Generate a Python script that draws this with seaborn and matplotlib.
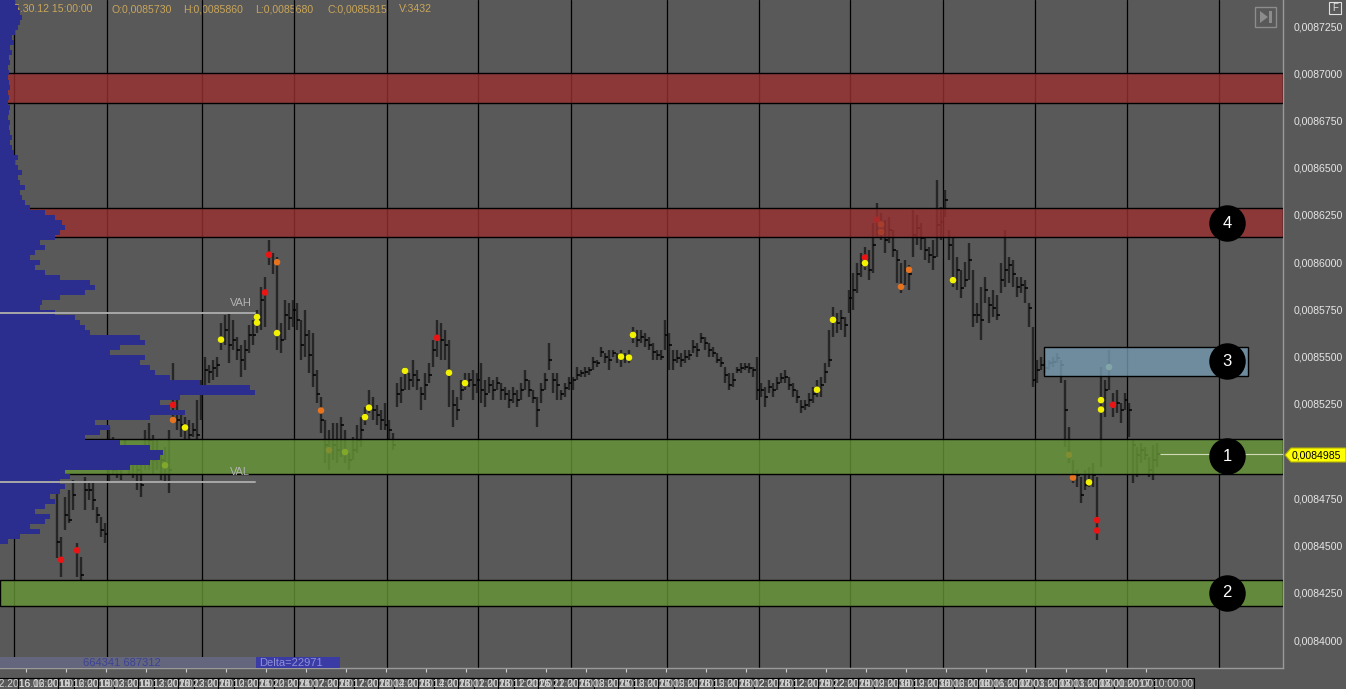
import numpy as np
import pandas as pd
import matplotlib
matplotlib.use('Agg')
import matplotlib.pyplot as plt
import seaborn as sns
from matplotlib.patches import Rectangle, Polygon
from matplotlib.transforms import Affine2D
from matplotlib.ticker import FuncFormatter

# prices in units of 1e-7
high = [84795, 84545, 84755, 84795, 84845, 84515, 84440, 84865, 84830, 84830,
        84705, 84650, 84620, 85130, 85075, 85035, 85005, 85060, 85035, 85020,
        84980, 84935, 85110, 85150, 85085, 85060, 85005, 85020, 85110, 85465,
        85270, 85220, 85180, 85165, 85150, 85270, 85375, 85500, 85455, 85480,
        85500, 85680, 85720, 85730, 85695, 85605, 85560, 85590, 85670, 85695,
        85745, 85870, 85920, 86120, 86050, 86030, 85680, 85800, 85785, 85800,
        85785, 85695, 85745, 85640, 85625, 85430, 85285, 85165, 85110, 85150,
        85150, 85180, 85110, 84990, 85075, 85140, 85180, 85235, 85325, 85285,
        85245, 85220, 85255, 85165, 85095, 85360, 85395, 85445, 85415, 85480,
        85430, 85340, 85415, 85465, 85590, 85695, 85680, 85640, 85590, 85325,
        85285, 85375, 85415, 85415, 85430, 85415, 85465, 85375, 85395, 85375,
        85395, 85360, 85340, 85325, 85340, 85325, 85360, 85430, 85375, 85325,
        85285, 85360, 85415, 85570, 85415, 85415, 85325, 85360, 85395, 85395,
        85445, 85430, 85445, 85445, 85500, 85480, 85550, 85520, 85535, 85535,
        85520, 85535, 85520, 85535, 85655, 85640, 85640, 85625, 85605, 85570,
        85535, 85535, 85695, 85625, 85535, 85535, 85520, 85535, 85535, 85590,
        85570, 85625, 85605, 85570, 85550, 85520, 85500, 85445, 85415, 85415,
        85445, 85465, 85465, 85465, 85445, 85500, 85360, 85340, 85375, 85360,
        85395, 85415, 85430, 85395, 85360, 85325, 85270, 85270, 85310, 85340,
        85375, 85395, 85465, 85640, 85765, 85730, 85745, 85710, 85855, 85945,
        85995, 86050, 86080, 86065, 86210, 86315, 86260, 86225, 86240, 86170,
        86065, 85995, 86010, 85985, 86275, 86250, 86210, 86135, 86080, 86120,
        86435, 86290, 86380, 86170, 86135, 86030, 85960, 86000, 86100, 85960,
        85785, 85870, 85920, 85815, 85855, 85825, 85995, 86170, 86030, 86010,
        85920, 85920, 85905, 85785, 85655, 85480, 85500, 85480, 85480, 85500,
        85520, 85480, 85375, 85130, 84955, 84900, 84865, 84900, 84915, 84935,
        84865, 85445, 85375, 85535, 85310, 85325, 85255, 85310, 85255, 85060,
        85020, 85045, 85020, 84970, 85035, 85045]
low = [84435, 84335, 84585, 84620, 84690, 84335, 84320, 84690, 84740, 84690,
       84620, 84545, 84515, 84830, 84875, 84860, 84845, 84900, 84875, 84860,
       84795, 84755, 84900, 84900, 84875, 84900, 84845, 84830, 84780, 85165,
       85110, 85075, 85060, 85060, 85075, 85060, 85165, 85350, 85360, 85375,
       85395, 85535, 85560, 85465, 85535, 85480, 85395, 85430, 85520, 85560,
       85625, 85640, 85655, 85985, 85935, 85535, 85520, 85590, 85640, 85655,
       85640, 85480, 85500, 85415, 85340, 85255, 85095, 84935, 84900, 84955,
       84935, 84970, 84935, 84900, 84955, 84990, 85020, 85140, 85200, 85165,
       85140, 85110, 85110, 85060, 85005, 85235, 85255, 85325, 85325, 85340,
       85325, 85220, 85270, 85360, 85445, 85500, 85480, 85480, 85235, 85130,
       85165, 85270, 85325, 85340, 85270, 85310, 85255, 85235, 85310, 85270,
       85325, 85270, 85270, 85230, 85255, 85235, 85270, 85325, 85285, 85255,
       85130, 85255, 85325, 85430, 85310, 85270, 85270, 85285, 85325, 85325,
       85375, 85395, 85395, 85405, 85430, 85445, 85500, 85465, 85430, 85500,
       85465, 85445, 85465, 85465, 85570, 85550, 85570, 85550, 85535, 85480,
       85480, 85480, 85535, 85430, 85430, 85465, 85445, 85465, 85480, 85520,
       85500, 85570, 85535, 85500, 85500, 85465, 85445, 85360, 85325, 85340,
       85415, 85415, 85430, 85415, 85395, 85270, 85285, 85235, 85310, 85285,
       85325, 85360, 85360, 85325, 85285, 85255, 85200, 85220, 85235, 85255,
       85285, 85285, 85360, 85445, 85605, 85625, 85640, 85605, 85730, 85745,
       85835, 85920, 85960, 85905, 85945, 86135, 86120, 86050, 86100, 86030,
       85890, 85835, 85880, 85855, 86030, 86090, 86065, 86010, 85995, 85960,
       86030, 86120, 86240, 86010, 85870, 85855, 85810, 85870, 85905, 85655,
       85680, 85590, 85785, 85680, 85710, 85695, 85835, 85870, 85890, 85870,
       85815, 85835, 85785, 85655, 85340, 85360, 85430, 85415, 85430, 85445,
       85465, 85360, 85020, 84935, 84830, 84810, 84725, 84795, 84810, 84810,
       84530, 84915, 85180, 85325, 85180, 85200, 85150, 85220, 85075, 84830,
       84865, 84935, 84955, 84865, 84845, 84915]
close = [84520, 84425, 84660, 84635, 84770, 84475, 84345, 84795, 84795, 84740,
         84660, 84585, 84560, 84955, 84900, 84980, 84925, 84955, 84980, 84940,
         84900, 84820, 85005, 85060, 84955, 84980, 84955, 84925, 84900, 85245,
         85165, 85140, 85125, 85085, 85110, 85085, 85300, 85430, 85420, 85440,
         85455, 85590, 85640, 85560, 85590, 85535, 85480, 85535, 85615, 85615,
         85695, 85800, 85840, 86040, 86000, 85625, 85590, 85720, 85705, 85745,
         85695, 85560, 85615, 85510, 85405, 85300, 85165, 85035, 85005, 85035,
         85005, 85140, 84995, 84955, 85005, 85060, 85110, 85180, 85230, 85220,
         85190, 85165, 85140, 85110, 85035, 85300, 85325, 85425, 85375, 85405,
         85375, 85300, 85350, 85405, 85535, 85600, 85590, 85560, 85415, 85245,
         85220, 85325, 85360, 85375, 85350, 85375, 85325, 85300, 85350, 85325,
         85360, 85325, 85300, 85270, 85300, 85270, 85325, 85375, 85325, 85280,
         85220, 85325, 85375, 85480, 85375, 85350, 85300, 85335, 85360, 85375,
         85405, 85415, 85420, 85430, 85470, 85465, 85525, 85500, 85480, 85520,
         85500, 85500, 85495, 85495, 85615, 85590, 85605, 85590, 85560, 85525,
         85510, 85500, 85615, 85560, 85480, 85495, 85480, 85500, 85510, 85550,
         85535, 85600, 85570, 85535, 85520, 85480, 85465, 85405, 85350, 85375,
         85430, 85440, 85445, 85440, 85430, 85325, 85325, 85285, 85340, 85325,
         85360, 85385, 85395, 85350, 85325, 85285, 85235, 85245, 85270, 85300,
         85325, 85350, 85420, 85480, 85695, 85680, 85705, 85670, 85810, 85855,
         85935, 85985, 86025, 85960, 86090, 86225, 86160, 86120, 86170, 86065,
         86010, 85880, 85960, 85935, 86145, 86180, 86130, 86065, 86040, 86025,
         86195, 86215, 86330, 86090, 85905, 85960, 85865, 85905, 86010, 85720,
         85720, 85695, 85855, 85775, 85760, 85720, 85905, 85960, 85985, 85935,
         85870, 85880, 85865, 85760, 85375, 85430, 85455, 85440, 85465, 85470,
         85495, 85455, 85220, 84980, 84860, 84875, 84770, 84820, 84835, 84875,
         84635, 85270, 85325, 85445, 85245, 85255, 85220, 85270, 85220, 85035,
         84980, 85005, 84980, 84900, 84955, 84985]

# cluster highlights (bar, price, kind)
mk_bar = [1, 5, 27, 29, 29, 32, 41, 50, 50, 52, 53, 55, 55, 66, 68, 72, 77, 78,
          87, 95, 98, 102, 141, 143, 144, 190, 194, 202, 202, 205, 206, 206, 211,
          213, 224, 253, 254, 258, 260, 260, 261, 261, 263, 264]
mk_price = [84425, 84475, 84925, 85245, 85165, 85125, 85590, 85710, 85680, 85840,
            86040, 86000, 85625, 85215, 85005, 84995, 85180, 85230, 85425, 85600,
            85415, 85360, 85500, 85495, 85615, 85325, 85695, 86025, 85995, 86225,
            86200, 86160, 85870, 85960, 85905, 84980, 84860, 84835, 84635, 84580,
            85270, 85220, 85445, 85245]
mk_kind = ['red', 'red', 'yellow', 'red', 'orange', 'yellow', 'yellow', 'yellow',
           'yellow', 'red', 'red', 'orange', 'yellow', 'orange', 'orange', 'yellow',
           'yellow', 'yellow', 'yellow', 'red', 'yellow', 'yellow', 'yellow', 'yellow',
           'yellow', 'yellow', 'yellow', 'red', 'yellow', 'red', 'orange', 'orange',
           'orange', 'orange', 'yellow', 'orange', 'orange', 'yellow', 'red', 'red',
           'yellow', 'yellow', 'pale', 'red']

# volume profile, bottom level first
profile_vol = [8, 20, 40, 30, 45, 50, 35, 45, 55, 50,
               60, 65, 60, 70, 65, 130, 150, 160, 163, 150,
               120, 85, 100, 110, 95, 150, 185, 170, 160, 180,
               255, 250, 200, 170, 155, 150, 140, 145, 110, 120,
               145, 140, 90, 85, 80, 75, 55, 40, 42, 60,
               85, 95, 90, 60, 45, 35, 40, 30, 35, 45,
               40, 55, 60, 65, 62, 55, 45, 30, 25, 22,
               20, 25, 20, 18, 22, 18, 15, 18, 14, 12,
               10, 12, 10, 9, 10, 8, 9, 10, 8, 9,
               8, 10, 9, 8, 9, 8, 10, 9, 12, 10,
               14, 12, 15, 18, 20, 22, 20, 18, 15]
profile_low = 84519
profile_step = 26.465

# zones (low, high)
red_zones = [(86845, 87000), (86134, 86287)]
green_zones = [(84879, 85065), (84180, 84318)]
blue_box = (246.75, 297.75, 85398, 85551)
zone_labels = ['4', '3', '1', '2']
zone_label_price = [86205, 85475, 84972, 84250]

vah, val = 85731, 84837
last_price = 84985
session_lines = [-10.7, 12.4, 36.3, 59.3, 82.4, 105.3, 128.4, 152.4, 175.4,
                 198.3, 221.4, 244.4, 267.4, 290.4]
tick_labels = ['16.12.2016 06:00:00', '16.12.2016 16:00:00', '19.12.2016 03:00:00',
               '19.12.2016 13:00:00', '19.12.2016 23:00:00', '20.12.2016 10:00:00',
               '20.12.2016 20:00:00', '21.12.2016 07:00:00', '21.12.2016 17:00:00',
               '22.12.2016 04:00:00', '22.12.2016 14:00:00', '23.12.2016 01:00:00',
               '23.12.2016 11:00:00', '23.12.2016 21:00:00', '26.12.2016 08:00:00',
               '26.12.2016 18:00:00', '27.12.2016 05:00:00', '27.12.2016 15:00:00',
               '28.12.2016 02:00:00', '28.12.2016 12:00:00', '28.12.2016 22:00:00',
               '29.12.2016 09:00:00', '29.12.2016 19:00:00', '30.12.2016 06:00:00',
               '30.12.2016 16:00:00', '02.01.2017 03:00:00', '02.01.2017 13:00:00',
               '03.01.2017 00:00:00', '03.01.2017 10:00:00']

BG = '#595959'
sns.set_theme(style='dark', rc={'axes.facecolor': BG, 'figure.facecolor': BG})
plt.rcParams['font.family'] = ['Liberation Sans', 'DejaVu Sans']

W, H = 1346, 689
fig = plt.figure(figsize=(W / 100, H / 100), dpi=100)
ax = fig.add_axes([0, 21 / H, 1283 / W, 668 / H])
px = Affine2D().scale(1, -1).translate(0, H)  # pixel coords from top-left

k = 1e-7
x = np.arange(len(close))
hi = np.array(high) * k
lo = np.array(low) * k
cl = np.array(close) * k

ax.set_xlim(-14.25, 306.5)
ax.set_ylim(83852 * k, 87388 * k)

for s in session_lines:
    ax.axvline(s, color='black', lw=0.9, zorder=1)

ax.vlines(x, lo, hi, color='#262626', lw=1.7, zorder=2)
ax.hlines(cl, x, x + 0.85, color='black', lw=1.1, zorder=2.1)

mk = pd.DataFrame({'bar': mk_bar, 'price': np.array(mk_price) * k, 'kind': mk_kind})
sns.scatterplot(data=mk, x='bar', y='price', hue='kind', ax=ax, s=22, linewidth=0,
                palette={'yellow': '#f2f200', 'orange': '#e8731e', 'red': '#ea1414',
                         'pale': '#b8dc8c'},
                legend=False, zorder=2.5)

for z0, z1 in red_zones:
    ax.axhspan(z0 * k, z1 * k, fc=(0.6, 0.19, 0.19, 0.8), ec='black', lw=1, zorder=3)
for z0, z1 in green_zones:
    ax.axhspan(z0 * k, z1 * k, fc=(0.40, 0.59, 0.21, 0.8), ec='black', lw=1, zorder=3)
bx0, bx1, by0, by1 = blue_box
ax.add_patch(Rectangle((bx0, by0 * k), bx1 - bx0, (by1 - by0) * k,
                       fc=(0.46, 0.60, 0.69, 0.8), ec='black', lw=1, zorder=3))

ax.hlines(last_price * k, 275.75, 306.5, color='#cfd9b5', lw=0.8, zorder=3.5)

sns.scatterplot(x=[292.5] * 4, y=np.array(zone_label_price) * k, ax=ax, s=690,
                color='black', linewidth=0, legend=False, zorder=5)
for lab, p in zip(zone_labels, zone_label_price):
    ax.text(292.5, p * k, lab, color='white', fontsize=12, ha='center',
            va='center', zorder=6)

# header
hdr = [(14, '5.30.12 15:00:00'), (111, 'O:0,0085730'), (183, 'H:0,0085860'),
       (255, 'L:0,0085680'), (327, 'C:0,0085815'), (399, 'V:3432')]
for hx, t in hdr:
    ax.text(hx, 9, t, transform=px, color='#c9a65a', fontsize=7.6, va='center',
            zorder=0.5)

# axes styling
for side in ['left', 'top']:
    ax.spines[side].set_visible(False)
for side in ['right', 'bottom']:
    ax.spines[side].set_color('#9a9a9a')
    ax.spines[side].set_linewidth(1)
ax.yaxis.tick_right()
ax.set_yticks(np.arange(84000, 87251, 250) * k)
ax.yaxis.set_major_formatter(FuncFormatter(lambda v, p: f'{v:.7f}'.replace('.', ',')))
ax.tick_params(axis='y', length=0, pad=8, labelsize=7.6, labelcolor='#e6e6e6')
ax.set_xticks(np.arange(len(tick_labels)) * 10 - 7.75)
ax.set_xticklabels(tick_labels)
ax.tick_params(axis='x', length=3, width=0.8, color='#d0d0d0', direction='out',
               pad=5, labelsize=7.4, labelcolor='#d6d6d6', bottom=True)
for t in ax.get_xticklabels():
    t.set_bbox(dict(boxstyle='square,pad=0.12', fc='none', ec='black', lw=0.8))
ax.grid(False)
ax.set_xlabel('')
ax.set_ylabel('')

# volume profile on top
ax2 = ax.twiny()
ax2.set_xlim(0, 1283)
levels = (profile_low + profile_step * np.arange(len(profile_vol))) * k
ax2.barh(levels, profile_vol, height=profile_step * k, color='#2b2d8f', lw=0)
ax2.axhline(vah * k, xmin=0, xmax=255 / 1283, color='#a8a8a8', lw=1.4)
ax2.axhline(val * k, xmin=0, xmax=255 / 1283, color='#a8a8a8', lw=1.4)
ax2.text(230, (vah + 25) * k, 'VAH', color='#b4b4b4', fontsize=8, va='bottom')
ax2.text(230, (val + 25) * k, 'VAL', color='#b4b4b4', fontsize=8, va='bottom')
ax2.set_axis_off()

# bottom-left info strip
fig.add_artist(Rectangle((0, 657), 340, 11, transform=px, fc='#63667c', lw=0))
fig.add_artist(Rectangle((256, 657), 84, 11, transform=px, fc='#3b3ba6', lw=0))
fig.text(83, 663, '664341 687312', transform=px, color='#3d4294', fontsize=8,
         va='center')
fig.text(259, 663, 'Delta=22971', transform=px, color='#8f8fd8', fontsize=8,
         va='center')

# current price tag
fig.add_artist(Polygon([(1285, 455), (1291, 448), (1346, 448), (1346, 462),
                        (1291, 462)], closed=True, transform=px, fc='#ffff00',
                       ec='#b0b000', lw=0.8))
fig.text(1292, 455.5, '0,0084985', transform=px, color='black', fontsize=7.6,
         va='center')

# scroll button and F box
fig.add_artist(Rectangle((1255, 7), 21, 20, transform=px, fc='none', ec='#8c8c8c', lw=1))
fig.add_artist(Polygon([(1260, 11), (1260, 23), (1268, 17)], closed=True,
                       transform=px, fc='#8c8c8c', lw=0))
fig.add_artist(Rectangle((1268.5, 11), 3, 12, transform=px, fc='#8c8c8c', lw=0))
fig.add_artist(Rectangle((1329, 2), 12, 12, transform=px, fc='none', ec='#e0e0e0', lw=0.8))
fig.text(1335, 8, 'F', transform=px, color='#e0e0e0', fontsize=7, ha='center',
         va='center')

fig.savefig('out.png', dpi=100, facecolor=BG)
